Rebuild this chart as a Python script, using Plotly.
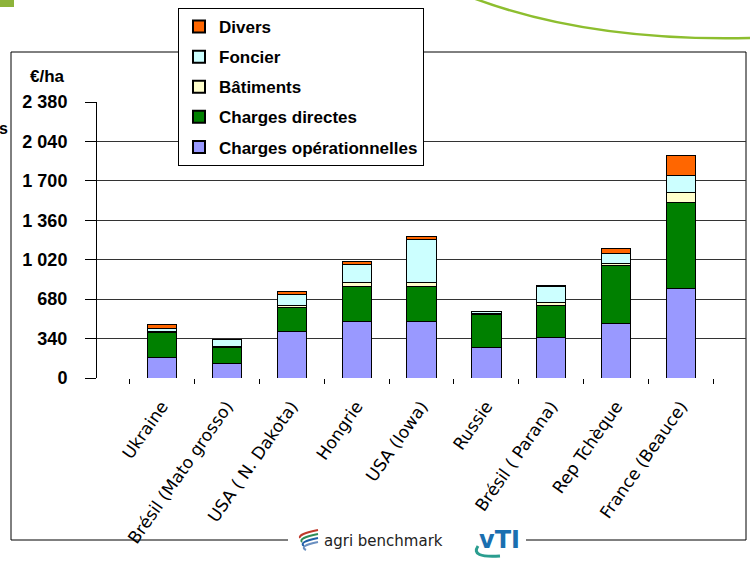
import plotly.graph_objects as go

categories = ["Ukraine", "Brésil (Mato grosso)", "USA ( N. Dakota)", "Hongrie", "USA (Iowa)",
              "Russie", "Brésil ( Parana)", "Rep Tchèque", "France (Beauce)"]
charges_oper = [175, 123, 397, 483, 483, 267, 350, 469, 768]
charges_directes = [216, 138, 207, 307, 309, 279, 274, 500, 745]
batiments = [12, 10, 20, 35, 33, 8, 28, 17, 83]
foncier = [26, 62, 92, 150, 371, 18, 133, 87, 152]
divers = [29, 3, 26, 28, 21, 5, 9, 43, 170]

y_tickvals = [0, 340, 680, 1020, 1360, 1700, 2040, 2380]
y_ticktext = ["0", "340", "680", "1 020", "1 360", "1 700", "2 040", "2 380"]

series = [
    ("Charges opérationnelles", charges_oper, "#9999FF", 5),
    ("Charges directes", charges_directes, "#008000", 4),
    ("Bâtiments", batiments, "#FFFFCC", 3),
    ("Foncier", foncier, "#CCFFFF", 2),
    ("Divers", divers, "#FF6600", 1),
]

W, H = 750, 563
L, R, T, B = 97, 746, 102, 378


def px(x):
    return (x - L) / (R - L)


def py(y):
    return (B - y) / (B - T)


FONT = "Liberation Sans, Arial, sans-serif"

fig = go.Figure()
for name, vals, col, rank in series:
    fig.add_trace(go.Bar(
        x=categories, y=vals, name=name, legendrank=rank, legendgroup=name,
        marker=dict(color=col, line=dict(color="black", width=1)),
        width=0.45,
    ))

shapes = []
# outer frame
shapes.append(dict(type="rect", xref="paper", yref="paper",
                   x0=px(11), x1=px(746), y0=py(540), y1=py(52),
                   line=dict(color="black", width=1), fillcolor="rgba(0,0,0,0)", layer="below"))
# white gap behind logos
shapes.append(dict(type="rect", xref="paper", yref="paper",
                   x0=px(288), x1=px(526), y0=py(558), y1=py(526),
                   line=dict(width=0), fillcolor="white", layer="above"))
# logo stripes
for i, c in enumerate(["#c0392b", "#2e8b57", "#1f5fa8", "#6a8fc0"]):
    yy = 533 + i * 4
    shapes.append(dict(type="path", xref="paper", yref="paper",
                       path=f"M {px(318)},{py(yy - 3)} Q {px(298)},{py(yy + 1)} {px(300 + i*2)},{py(yy + 5)}",
                       line=dict(color=c, width=2), layer="above"))
# vTI swoosh
shapes.append(dict(type="path", xref="paper", yref="paper",
                   path=f"M {px(478)},{py(546)} Q {px(470)},{py(558)} {px(500)},{py(556)}",
                   line=dict(color="#2a9d8f", width=3), layer="above"))
# top-left green square
shapes.append(dict(type="rect", xref="paper", yref="paper",
                   x0=px(0), x1=px(14), y0=py(7), y1=py(0),
                   line=dict(width=0), fillcolor="#8DB33A", layer="above"))
# green arc top right
shapes.append(dict(type="path", xref="paper", yref="paper",
                   path=f"M {px(473)},{py(-2)} Q {px(590)},{py(42)} {px(752)},{py(38)}",
                   line=dict(color="#8DBE2F", width=2.5), layer="above"))

annotations = [
    dict(text="<b>€/ha</b>", xref="paper", yref="paper", x=px(67), y=py(76),
         xanchor="right", yanchor="middle", showarrow=False,
         font=dict(family=FONT, size=17, color="black")),
    dict(text="<b>s</b>", xref="paper", yref="paper", x=px(-3), y=py(128),
         xanchor="left", yanchor="middle", showarrow=False,
         font=dict(family=FONT, size=16, color="black")),
    dict(text="agri benchmark", xref="paper", yref="paper", x=px(322), y=py(541),
         xanchor="left", yanchor="middle", showarrow=False,
         font=dict(family="DejaVu Sans", size=15, color="#222")),
    dict(text="<b>vTI</b>", xref="paper", yref="paper", x=px(477), y=py(540),
         xanchor="left", yanchor="middle", showarrow=False,
         font=dict(family="DejaVu Sans", size=24, color="#1a6fb0")),
]

fig.update_layout(
    width=W, height=H,
    margin=dict(l=L, r=W - R, t=T, b=H - B, pad=0),
    paper_bgcolor="white", plot_bgcolor="white",
    barmode="stack",
    showlegend=True,
    legend=dict(x=px(178), y=py(8), xanchor="left", yanchor="top",
                bgcolor="white", bordercolor="black", borderwidth=1,
                traceorder="grouped", tracegroupgap=5,
                font=dict(family=FONT, size=17, color="black", weight="bold"),
                itemsizing="constant"),
    xaxis=dict(range=[-1, 9], showgrid=False, zeroline=False, showline=False,
               tickangle=-55, tickson="boundaries", ticks="outside", ticklen=5,
               tickcolor="black", ticklabelstandoff=14,
               tickfont=dict(family="DejaVu Sans", size=17, color="black")),
    yaxis=dict(range=[0, 2380], tickvals=y_tickvals, ticktext=y_ticktext,
               showgrid=True, gridcolor="#333333", gridwidth=1, zeroline=False,
               showline=True, linecolor="black", linewidth=1,
               ticks="outside", ticklen=11, tickcolor="black", ticklabelstandoff=14,
               tickfont=dict(family=FONT, size=18, color="black", weight="bold")),
    shapes=shapes,
    annotations=annotations,
    font=dict(family=FONT),
)

fig.write_html("out.html", config={"displayModeBar": False},
               post_script="document.body.style.margin='0';document.body.style.overflow='hidden';")
